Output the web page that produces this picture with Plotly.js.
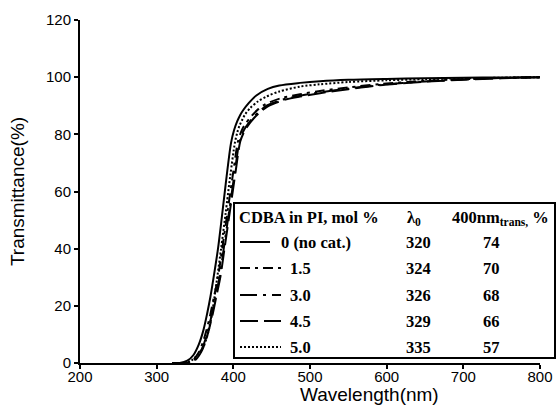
<!DOCTYPE html>
<html>
<head>
<meta charset="utf-8">
<script src="https://cdn.plot.ly/plotly-3.0.1.min.js"></script>
<style>html,body{margin:0;padding:0;background:#fff;}#chart{width:558px;height:417px;}</style>
</head>
<body>
<div id="chart"></div>
<script>
// ---- Data ----
const seriesNames = ["0 (no cat.)", "1.5", "3.0", "4.5", "5.0"];
const lambda0 = ["320", "324", "326", "329", "335"];
const trans400 = ["74", "70", "68", "66", "57"];

const wl0 = [320, 330, 340, 348, 355, 361, 366, 370, 374, 380, 385, 390, 397, 401, 405, 409, 413, 420, 430, 445, 460, 487, 513, 550, 600, 650, 700, 750, 800];
const t0  = [0, 0, 0.8, 2.8, 6.5, 11.5, 17.5, 23, 29.5, 40, 51, 62.5, 77, 81.5, 84.5, 86.8, 88.5, 90.9, 93.6, 95.9, 97.1, 98, 98.6, 99.1, 99.4, 99.6, 99.8, 99.9, 100];

const wl1 = [320, 338, 345, 350, 355, 360, 365, 370, 375, 380, 386, 393, 400, 406, 410, 414, 424, 433, 442, 463, 487, 513, 550, 591, 650, 700, 750, 800];
const t1  = [0, 0, 0.5, 1.8, 3.8, 7, 11.5, 17, 23.5, 30, 41, 54, 67, 77.5, 80.8, 83, 86.5, 88.9, 90.6, 92.7, 94, 95.2, 96.4, 97.6, 98.7, 99.3, 99.7, 100];

const wl2 = [320, 340, 347, 352, 357, 362, 367, 372, 377, 382, 388, 395, 402, 408, 412, 416, 426, 435, 444, 465, 487, 513, 550, 591, 650, 700, 750, 800];
const t2  = [0, 0, 0.5, 1.8, 3.8, 7, 11.5, 17, 23.5, 30, 41, 54, 67, 77.5, 80.5, 82.5, 86, 88.3, 90.1, 92.2, 93.5, 94.7, 96, 97.3, 98.5, 99.2, 99.7, 100];

const wl3 = [320, 341, 348, 353, 358, 363, 368, 373, 378, 383, 389, 396, 403, 409, 413, 417, 427, 436, 445, 466, 487, 513, 550, 591, 650, 700, 750, 800];
const t3  = [0, 0, 0.5, 1.8, 3.8, 7, 11.5, 17, 23.5, 30, 41, 54, 67, 77.5, 80.3, 82.3, 85.7, 88, 89.8, 92, 93.2, 94.4, 95.8, 97.2, 98.4, 99.1, 99.6, 100];

const wl4 = [320, 335, 345, 352, 361, 367, 372, 378, 384, 390, 396, 402, 405, 408, 415, 422, 432, 443, 460, 487, 513, 550, 600, 650, 700, 750, 800];
const t4  = [0, 0, 0.8, 2.5, 5.7, 10.5, 17, 28, 40, 52.5, 65.5, 77, 80.5, 83, 86.8, 89.2, 91.5, 93.2, 95, 96.7, 97.5, 98.3, 98.9, 99.3, 99.6, 99.8, 100];

const xTicks = [200, 300, 400, 500, 600, 700, 800];
const yTicks = [0, 20, 40, 60, 80, 100, 120];

// ---- Styles ----
const dashes = ["solid", "10px,5px,3px,5px", "17px,6px,3px,6px", "18px,6px", "2px,2px"];
const xs = [wl0, wl1, wl2, wl3, wl4];
const ys = [t0, t1, t2, t3, t4];

const traces = xs.map((x, i) => ({
  x: x, y: ys[i], type: "scatter", mode: "lines", name: seriesNames[i],
  line: {color: "#000", width: 2, dash: dashes[i], shape: "spline", smoothing: 0.8},
  showlegend: false
}));

// pixel -> paper helpers (plot area: x 80..540, y 20..363)
const L = 80, R = 540, T = 20, B = 363;
const px = v => (v - L) / (R - L);
const py = v => (B - v) / (B - T);

const serif = "Liberation Serif, Times New Roman, serif";
const sans = "Liberation Sans, Arial, sans-serif";
const tf = {family: serif, size: 16.5, color: "#000"};

const rowsY = [242, 268, 295, 321, 347];
const annotations = [
  {text: "Wavelength(nm)", xref: "paper", yref: "paper", x: px(369), y: py(394), showarrow: false,
   xanchor: "center", yanchor: "middle", font: {family: sans, size: 19, color: "#000"}},
  {text: "<b>CDBA in PI, mol %</b>", xref: "paper", yref: "paper", x: px(237), y: py(218), showarrow: false,
   xanchor: "left", yanchor: "middle", font: tf},
  {text: "<b>λ<sub>0</sub></b>", xref: "paper", yref: "paper", x: px(414), y: py(218), showarrow: false,
   xanchor: "center", yanchor: "middle", font: tf},
  {text: "<b>400nm<sub>trans,</sub> %</b>", xref: "paper", yref: "paper", x: px(500), y: py(218), showarrow: false,
   xanchor: "center", yanchor: "middle", font: tf}
];
const shapes = [
  {type: "rect", xref: "paper", yref: "paper", x0: px(234), x1: px(555), y0: py(358), y1: py(203),
   line: {color: "#000", width: 2}, fillcolor: "rgba(255,255,255,0)", layer: "above"}
];
seriesNames.forEach((n, i) => {
  const yy = py(rowsY[i]);
  annotations.push({text: "<b>" + n + "</b>", xref: "paper", yref: "paper", x: px(i === 0 ? 279 : 288), y: yy,
    showarrow: false, xanchor: "left", yanchor: "middle", font: tf});
  annotations.push({text: "<b>" + lambda0[i] + "</b>", xref: "paper", yref: "paper", x: px(418), y: yy,
    showarrow: false, xanchor: "center", yanchor: "middle", font: tf});
  annotations.push({text: "<b>" + trans400[i] + "</b>", xref: "paper", yref: "paper", x: px(491), y: yy,
    showarrow: false, xanchor: "center", yanchor: "middle", font: tf});
  shapes.push({type: "line", xref: "paper", yref: "paper", x0: px(240), x1: px(i === 0 ? 270 : 281), y0: yy, y1: yy,
    line: {color: "#000", width: 2, dash: dashes[i]}});
});

const layout = {
  width: 558, height: 417,
  margin: {l: L, r: 558 - R, t: T, b: 417 - B},
  paper_bgcolor: "#fff", plot_bgcolor: "#fff",
  font: {family: sans, size: 15, color: "#000"},
  xaxis: {range: [200, 800], tickvals: xTicks, ticktext: xTicks.map(String), showgrid: false, zeroline: false,
    showline: true, linecolor: "#000", linewidth: 2, ticks: "outside", ticklen: 4, tickwidth: 2, tickcolor: "#000",
    ticklabelstandoff: -5,
    tickfont: {family: sans, size: 15, color: "#000"}},
  yaxis: {range: [0, 120], tickvals: yTicks, ticktext: yTicks.map(String), showgrid: false, zeroline: false,
    showline: true, linecolor: "#000", linewidth: 2, ticks: "outside", ticklen: 4, tickwidth: 2, tickcolor: "#000",
    tickfont: {family: sans, size: 15, color: "#000"},
    title: {text: "Transmittance(%)", font: {family: sans, size: 19, color: "#000"}, standoff: 16}},
  annotations: annotations,
  shapes: shapes,
  showlegend: false
};

Plotly.newPlot("chart", traces, layout, {displayModeBar: false, staticPlot: true});
</script>
</body>
</html>
